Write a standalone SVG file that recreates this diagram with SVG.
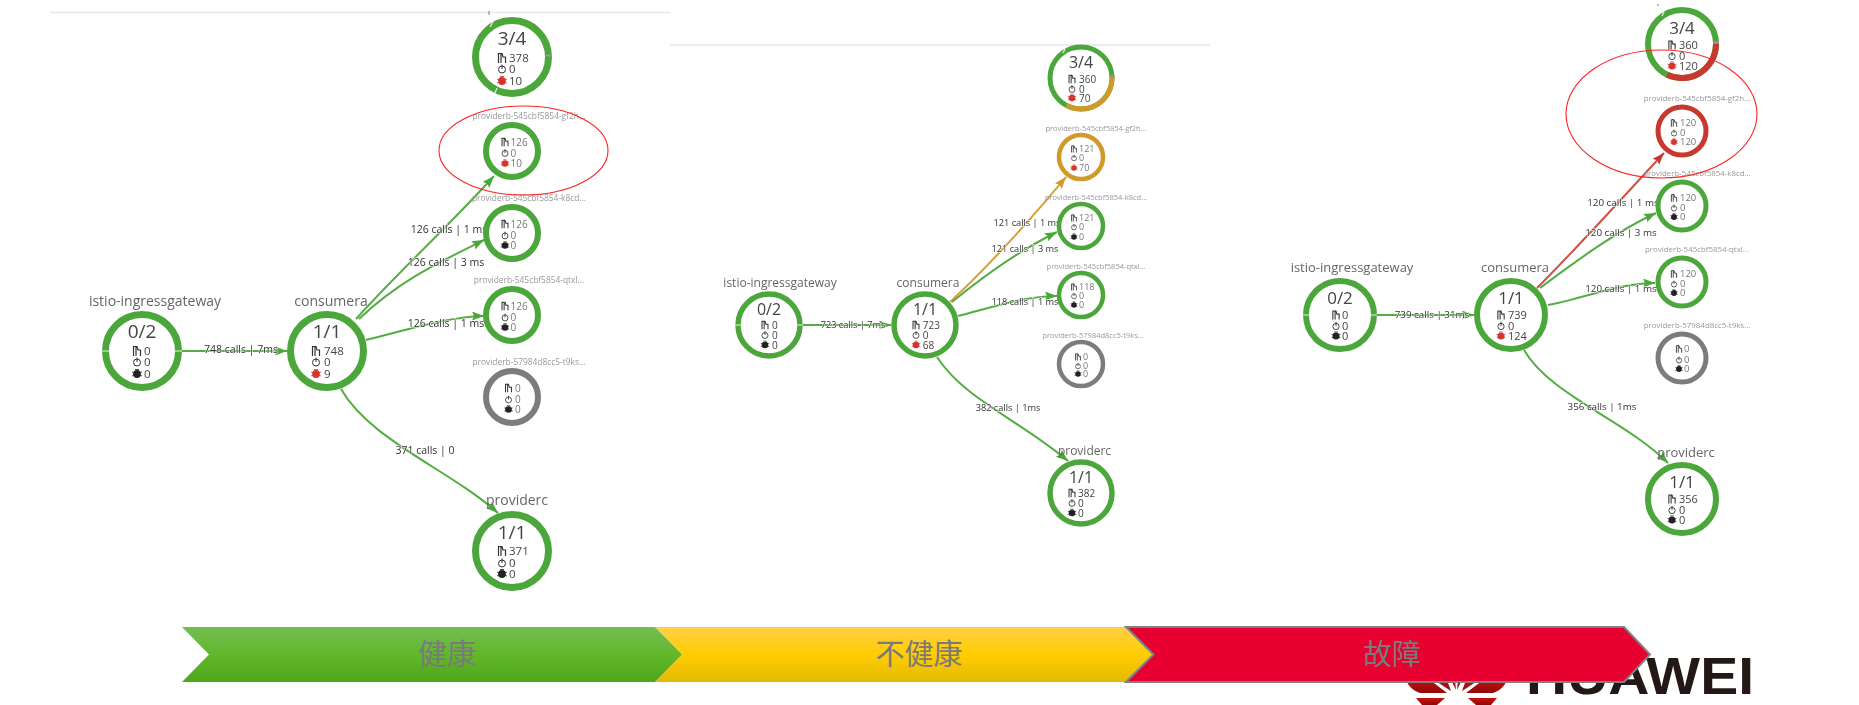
<svg xmlns="http://www.w3.org/2000/svg" width="1859" height="705" viewBox="0 0 1859 705">
<style>
text{font-family:"Open Sans","Noto Sans",sans-serif}
.ring{fill:#fff;stroke:#4ca63a}
.gy{stroke:#7b7b7b}.or{stroke:#cf9a2b}.rd{stroke:#c8392f}
.arc{fill:none;stroke-linecap:butt}
.tick{stroke:#9a9a9a;stroke-width:2}
.wt{stroke:#e4f0e0;stroke-width:1.2}
.ttl{fill:#444;text-anchor:middle}
.nm{fill:#666;text-anchor:middle}
.pod{fill:#999;text-anchor:middle}
.b1{fill:#444;font-size:11.5px}.b2{fill:#444;font-size:10px}.b3{fill:#444;font-size:11px}
.s1{fill:#777;font-size:10px}.s2{fill:#777;font-size:9px}.s3{fill:#777;font-size:9.5px}
.k{fill:#222;color:#222}.r{fill:#d5362f;color:#d5362f}
.e{fill:none;stroke:#55ac44;stroke-width:2}
.eo{stroke:#d6a035}.er{stroke:#cf4f46}
.lb{fill:#333;text-anchor:middle;paint-order:stroke;stroke:#fff;stroke-width:1.5px;stroke-opacity:.7}
.l1{font-size:10.5px}.l2{font-size:9.2px}.l3{font-size:9.8px}
.sep{stroke:#e8e8e8;stroke-width:1.5}
.mark{fill:none;stroke:#f22;stroke-width:1.1}
.bt{fill:#7a7a7a;font-size:29px;text-anchor:middle;font-family:"Noto Sans CJK SC",sans-serif}
</style>
<defs>
<filter id="soft" filterUnits="userSpaceOnUse" x="0" y="0" width="1859" height="705"><feGaussianBlur stdDeviation="0.5"/></filter>
<g id="rq"><path d="M-3.500,5V-4.500H0L1,-1H3.500V5M-1,5V-4.500" fill="none" stroke="#333" stroke-width="1.2"/></g>
<g id="ck"><circle r="3.500" cy="0.500" fill="none" stroke="#333" stroke-width="1"/><path d="M0,-4.500V0" stroke="#333" stroke-width="1"/></g>
<g id="bg"><circle r="3.900"/><path d="M-5,-2L5,2M-5,2L5,-2M-2,-4.500L2,-4.500" stroke="currentColor" stroke-width=".8"/></g>
<marker id="ag" markerUnits="userSpaceOnUse" markerWidth="13" markerHeight="10" refX="12" refY="4.500" orient="auto"><path d="M0,0L12,4.500L0,9L2,4.500Z" fill="#4ca63a"/></marker>
<marker id="ao" markerUnits="userSpaceOnUse" markerWidth="13" markerHeight="10" refX="12" refY="4.500" orient="auto"><path d="M0,0L12,4.500L0,9L2,4.500Z" fill="#cf9a2b"/></marker>
<marker id="ar" markerUnits="userSpaceOnUse" markerWidth="13" markerHeight="10" refX="12" refY="4.500" orient="auto"><path d="M0,0L12,4.500L0,9L2,4.500Z" fill="#c8392f"/></marker>
<linearGradient id="gg" x1="0" y1="0" x2="0" y2="1"><stop offset="0" stop-color="#74bd54"/><stop offset=".5" stop-color="#60b82a"/><stop offset="1" stop-color="#4fa61b"/></linearGradient>
<linearGradient id="gy" x1="0" y1="0" x2="0" y2="1"><stop offset="0" stop-color="#ffcf48"/><stop offset=".5" stop-color="#ffcd00"/><stop offset="1" stop-color="#e4b900"/></linearGradient>
<linearGradient id="gl" x1="0" y1="0" x2="0" y2="1"><stop offset="0" stop-color="#c8100c"/><stop offset="1" stop-color="#8c0a08"/></linearGradient>
</defs>

<g id="huawei-logo">
<g fill="url(#gl)">
<path d="M1406,680H1430L1447,693H1420Q1410,690 1406,680Z"/><path d="M1434,680H1447L1451,691Z"/><path d="M1451,680H1455L1456,690Z"/><path d="M1416,698H1445L1437,705H1422Z"/>
<path d="M1507,680H1483L1466,693H1493Q1503,690 1507,680Z"/><path d="M1479,680H1466L1462,691Z"/><path d="M1462,680H1458L1457,690Z"/><path d="M1497,698H1468L1476,705H1491Z"/>
</g>
<text x="1526" y="694" font-size="52" font-weight="700" fill="#231815" textLength="228" lengthAdjust="spacingAndGlyphs" style="font-family:'Liberation Sans',sans-serif">HUAWEI</text>
</g>

<g id="status-bars">
<path d="M655,627H1126L1153.500,654.500L1126,682H655L682,654.500Z" fill="url(#gy)"/>
<path d="M182,627H655L682,654.500L655,682H182L209,654.500Z" fill="url(#gg)"/>
<path d="M1126,627H1624L1650,654.500L1624,682H1126L1153.500,654.500Z" fill="#e80030" stroke="#808080" stroke-width="2"/>
<text class="bt" x="447" y="665">健康</text>
<text class="bt" x="919" y="665">不健康</text>
<text class="bt" x="1392" y="665">故障</text>
</g>

<g filter="url(#soft)">
<g id="separators">
<path class="sep" d="M50,12.500H671M670,45H1210"/>
<path d="M489,11V15M1658,4V6" stroke="#777" stroke-width="1"/>
</g>

<g id="connectors">
<path class="e" marker-end="url(#ag)" d="M182,351H287"/>
<path class="e" marker-end="url(#ag)" d="M356,319C400,270 450,225 494,176"/>
<path class="e" marker-end="url(#ag)" d="M359,319C400,280 440,262 484,240"/>
<path class="e" marker-end="url(#ag)" d="M366,340C400,332 450,316 484,316"/>
<path class="e" marker-end="url(#ag)" d="M341,389C370,440 450,470 498,513"/>
<text class="lb l1" x="241" y="353">748 calls | 7ms</text>
<text class="lb l1" x="449" y="233">126 calls | 1 ms</text>
<text class="lb l1" x="446" y="266">126 calls | 3 ms</text>
<text class="lb l1" x="446" y="327">126 calls | 1 ms</text>
<text class="lb l1" x="425" y="454">371 calls | 0</text>

<path class="e" marker-end="url(#ag)" d="M803,325H891"/>
<path class="e eo" marker-end="url(#ao)" d="M950,302C990,265 1030,220 1066,177"/>
<path class="e" marker-end="url(#ag)" d="M952,302C985,275 1020,250 1057,232"/>
<path class="e" marker-end="url(#ag)" d="M958,316C990,308 1025,296 1057,296"/>
<path class="e" marker-end="url(#ag)" d="M937,357C965,400 1020,420 1068,461"/>
<text class="lb l2" x="853" y="328">723 calls | 7ms</text>
<text class="lb l2" x="1027" y="226">121 calls | 1 ms</text>
<text class="lb l2" x="1025" y="252">121 calls | 3 ms</text>
<text class="lb l2" x="1025" y="305">118 calls | 1 ms</text>
<text class="lb l2" x="1008" y="411">382 calls | 1ms</text>

<path class="e" marker-end="url(#ag)" d="M1377,315H1474"/>
<path class="e er" marker-end="url(#ar)" d="M1537,288C1580,245 1625,195 1664,153"/>
<path class="e" marker-end="url(#ag)" d="M1540,288C1575,262 1615,232 1656,213"/>
<path class="e" marker-end="url(#ag)" d="M1548,305C1585,298 1620,283 1655,283"/>
<path class="e" marker-end="url(#ag)" d="M1524,350C1550,395 1625,420 1668,463"/>
<text class="lb l3" x="1432" y="318">739 calls | 31ms</text>
<text class="lb l3" x="1623" y="206">120 calls | 1 ms</text>
<text class="lb l3" x="1621" y="236">120 calls | 3 ms</text>
<text class="lb l3" x="1621" y="292">120 calls | 1 ms</text>
<text class="lb l3" x="1602" y="410">356 calls | 1ms</text>
</g>

<g id="p1-istio-ingressgateway" transform="translate(142,351)">
<text class="nm" x="13" y="-45" font-size="14">istio-ingressgateway</text>
<circle class="ring" r="36.500" stroke-width="7"/><path class="wt" d="M-40,0H-33M33,0H40"/>
<text class="ttl" y="-13" font-size="19">0/2</text>
<use href="#rq" transform="translate(-5,0)"/><text class="b1" x="2" y="4">0</text>
<use href="#ck" transform="translate(-5,11)"/><text class="b1" x="2" y="15">0</text>
<use href="#bg" class="k" transform="translate(-5,23)"/><text class="b1" x="2" y="27">0</text>
</g>
<g id="p1-consumera" transform="translate(327,351)">
<text class="nm" x="4" y="-45" font-size="14">consumera</text>
<circle class="ring" r="36.500" stroke-width="7"/>
<text class="ttl" y="-13" font-size="19">1/1</text>
<use href="#rq" transform="translate(-11,0)"/><text class="b1" x="-3" y="4">748</text>
<use href="#ck" transform="translate(-11,11)"/><text class="b1" x="-3" y="15">0</text>
<use href="#bg" class="r" transform="translate(-11,23)"/><text class="b1" x="-3" y="27">9</text>
</g>
<g id="p1-providerb" transform="translate(512,57)">
<circle class="ring" r="36.500" stroke-width="7"/><path class="tick" d="M34,-1.500H40"/><path class="wt" d="M-19,-35L-22,-30M-17,36L-15,31"/>
<text class="ttl" y="-12" font-size="19">3/4</text>
<use href="#rq" transform="translate(-10,1)"/><text class="b1" x="-3" y="5">378</text>
<use href="#ck" transform="translate(-10,12)"/><text class="b1" x="-3" y="16">0</text>
<use href="#bg" class="r" transform="translate(-10,24)"/><text class="b1" x="-3" y="28">10</text>
</g>
<g id="p1-pod-gf2h" transform="translate(512,151)">
<text class="pod" x="17" y="-32" font-size="8.400">providerb-545cbf5854-gf2h...</text>
<circle class="ring" r="26" stroke-width="6"/>
<use href="#rq" transform="translate(-7,-9) scale(.85)"/><text class="s1" x="-1.500" y="-5.500">126</text>
<use href="#ck" transform="translate(-7,2) scale(.85)"/><text class="s1" x="-1.500" y="6">0</text>
<use href="#bg" class="r" transform="translate(-7,12.500) scale(.85)"/><text class="s1" x="-1.500" y="16">10</text>
</g>
<g id="p1-pod-k8cd" transform="translate(512,233)">
<text class="pod" x="17" y="-32" font-size="8.400">providerb-545cbf5854-k8cd...</text>
<circle class="ring" r="26" stroke-width="6"/>
<use href="#rq" transform="translate(-7,-9) scale(.85)"/><text class="s1" x="-1.500" y="-5.500">126</text>
<use href="#ck" transform="translate(-7,2.500) scale(.85)"/><text class="s1" x="-1.500" y="6">0</text>
<use href="#bg" class="k" transform="translate(-7,12.500) scale(.85)"/><text class="s1" x="-1.500" y="16">0</text>
</g>
<g id="p1-pod-qtxl" transform="translate(512,315)">
<text class="pod" x="17" y="-32" font-size="8.400">providerb-545cbf5854-qtxl...</text>
<circle class="ring" r="26" stroke-width="6"/>
<use href="#rq" transform="translate(-7,-9) scale(.85)"/><text class="s1" x="-1.500" y="-5.500">126</text>
<use href="#ck" transform="translate(-7,2.500) scale(.85)"/><text class="s1" x="-1.500" y="6">0</text>
<use href="#bg" class="k" transform="translate(-7,12.500) scale(.85)"/><text class="s1" x="-1.500" y="16">0</text>
</g>
<g id="p1-pod-t9ks" transform="translate(512,397)">
<text class="pod" x="17" y="-32" font-size="8.400">providerb-57984d8cc5-t9ks...</text>
<circle class="ring gy" r="26" stroke-width="6"/>
<use href="#rq" transform="translate(-3.500,-9) scale(.85)"/><text class="s1" x="3" y="-5.500">0</text>
<use href="#ck" transform="translate(-3.500,2.500) scale(.85)"/><text class="s1" x="3" y="6">0</text>
<use href="#bg" class="k" transform="translate(-3.500,12.500) scale(.85)"/><text class="s1" x="3" y="16">0</text>
</g>
<g id="p1-providerc" transform="translate(512,551)">
<text class="nm" x="5" y="-46" font-size="14">providerc</text>
<circle class="ring" r="36.500" stroke-width="7"/>
<text class="ttl" y="-12" font-size="19">1/1</text>
<use href="#rq" transform="translate(-10,0)"/><text class="b1" x="-3" y="4">371</text>
<use href="#ck" transform="translate(-10,12)"/><text class="b1" x="-3" y="16">0</text>
<use href="#bg" class="k" transform="translate(-10,23)"/><text class="b1" x="-3" y="27">0</text>
</g>

<g id="p2-istio-ingressgateway" transform="translate(769,325)">
<text class="nm" x="11" y="-38" font-size="12">istio-ingressgateway</text>
<circle class="ring" r="31" stroke-width="5.500"/><path class="wt" d="M-34,0H-28M28,0H34"/>
<text class="ttl" y="-10" font-size="16">0/2</text>
<use href="#rq" transform="translate(-4,0) scale(.85)"/><text class="b2" x="3" y="3.500">0</text>
<use href="#ck" transform="translate(-4,10) scale(.85)"/><text class="b2" x="3" y="13.500">0</text>
<use href="#bg" class="k" transform="translate(-4,20) scale(.85)"/><text class="b2" x="3" y="23.500">0</text>
</g>
<g id="p2-consumera" transform="translate(925,325)">
<text class="nm" x="3" y="-38" font-size="12">consumera</text>
<circle class="ring" r="31" stroke-width="5.500"/>
<text class="ttl" y="-10" font-size="16">1/1</text>
<use href="#rq" transform="translate(-9,0) scale(.85)"/><text class="b2" x="-2.300" y="3.500">723</text>
<use href="#ck" transform="translate(-9,10) scale(.85)"/><text class="b2" x="-2.300" y="13.500">0</text>
<use href="#bg" class="r" transform="translate(-9,20) scale(.85)"/><text class="b2" x="-2.300" y="23.500">68</text>
</g>
<g id="p2-providerb" transform="translate(1081,78)">
<circle class="ring" r="31" stroke-width="5"/><path class="arc or" stroke-width="5" d="M31,0A31,31 0 0 1 -14.600,27.400"/><path class="tick" d="M28,-1.500H34"/><path class="wt" d="M-16,-29L-18,-25"/>
<text class="ttl" y="-10" font-size="16">3/4</text>
<use href="#rq" transform="translate(-9,1) scale(.85)"/><text class="b2" x="-2" y="4.500">360</text>
<use href="#ck" transform="translate(-9,11) scale(.85)"/><text class="b2" x="-2" y="14.500">0</text>
<use href="#bg" class="r" transform="translate(-9,20) scale(.85)"/><text class="b2" x="-2" y="23.500">70</text>
</g>
<g id="p2-pod-gf2h" transform="translate(1081,157)">
<text class="pod" x="15" y="-26" font-size="7.500">providerb-545cbf5854-gf2h...</text>
<circle class="ring or" r="22" stroke-width="4.500"/>
<use href="#rq" transform="translate(-7,-8) scale(.7)"/><text class="s2" x="-2" y="-5">121</text>
<use href="#ck" transform="translate(-7,1) scale(.7)"/><text class="s2" x="-2" y="4">0</text>
<use href="#bg" class="r" transform="translate(-7,11) scale(.7)"/><text class="s2" x="-2" y="14">70</text>
</g>
<g id="p2-pod-k8cd" transform="translate(1081,226)">
<text class="pod" x="15" y="-26" font-size="7.500">providerb-545cbf5854-k8cd...</text>
<circle class="ring" r="22" stroke-width="4.500"/>
<use href="#rq" transform="translate(-7,-8) scale(.7)"/><text class="s2" x="-2" y="-5">121</text>
<use href="#ck" transform="translate(-7,1) scale(.7)"/><text class="s2" x="-2" y="4">0</text>
<use href="#bg" class="k" transform="translate(-7,11) scale(.7)"/><text class="s2" x="-2" y="14">0</text>
</g>
<g id="p2-pod-qtxl" transform="translate(1081,295)">
<text class="pod" x="15" y="-26" font-size="7.500">providerb-545cbf5854-qtxl...</text>
<circle class="ring" r="22" stroke-width="4.500"/>
<use href="#rq" transform="translate(-7,-8) scale(.7)"/><text class="s2" x="-2" y="-5">118</text>
<use href="#ck" transform="translate(-7,1) scale(.7)"/><text class="s2" x="-2" y="4">0</text>
<use href="#bg" class="k" transform="translate(-7,10) scale(.7)"/><text class="s2" x="-2" y="13">0</text>
</g>
<g id="p2-pod-t9ks" transform="translate(1081,364)">
<text class="pod" x="12" y="-26" font-size="7.500">providerb-57984d8cc5-t9ks...</text>
<circle class="ring gy" r="22" stroke-width="4.500"/>
<use href="#rq" transform="translate(-3,-7) scale(.7)"/><text class="s2" x="2" y="-4">0</text>
<use href="#ck" transform="translate(-3,2) scale(.7)"/><text class="s2" x="2" y="5">0</text>
<use href="#bg" class="k" transform="translate(-3,10) scale(.7)"/><text class="s2" x="2" y="13">0</text>
</g>
<g id="p2-providerc" transform="translate(1081,493)">
<text class="nm" x="3.500" y="-38" font-size="12">providerc</text>
<circle class="ring" r="31" stroke-width="5.500"/>
<text class="ttl" y="-10" font-size="16">1/1</text>
<use href="#rq" transform="translate(-9,0) scale(.85)"/><text class="b2" x="-3" y="3.500">382</text>
<use href="#ck" transform="translate(-9,10) scale(.85)"/><text class="b2" x="-3" y="13.500">0</text>
<use href="#bg" class="k" transform="translate(-9,20) scale(.85)"/><text class="b2" x="-3" y="23.500">0</text>
</g>

<g id="p3-istio-ingressgateway" transform="translate(1340,315)">
<text class="nm" x="12" y="-43" font-size="13">istio-ingressgateway</text>
<circle class="ring" r="34" stroke-width="6"/><path class="wt" d="M-37,0H-31M31,0H37"/>
<text class="ttl" y="-11" font-size="17">0/2</text>
<use href="#rq" transform="translate(-4,0) scale(.9)"/><text class="b3" x="2" y="3.500">0</text>
<use href="#ck" transform="translate(-4,11) scale(.9)"/><text class="b3" x="2" y="14.500">0</text>
<use href="#bg" class="k" transform="translate(-4,21) scale(.9)"/><text class="b3" x="2" y="24.500">0</text>
</g>
<g id="p3-consumera" transform="translate(1511,315)">
<text class="nm" x="4" y="-43" font-size="13">consumera</text>
<circle class="ring" r="34" stroke-width="6"/>
<text class="ttl" y="-11" font-size="17">1/1</text>
<use href="#rq" transform="translate(-10,0) scale(.9)"/><text class="b3" x="-3" y="3.500">739</text>
<use href="#ck" transform="translate(-10,11) scale(.9)"/><text class="b3" x="-3" y="14.500">0</text>
<use href="#bg" class="r" transform="translate(-10,21) scale(.9)"/><text class="b3" x="-3" y="24.500">124</text>
</g>
<g id="p3-providerb" transform="translate(1682,44)">
<circle class="ring" r="34" stroke-width="6"/><path class="arc rd" stroke-width="6" d="M34,0A34,34 0 0 1 -14.900,30.600"/><path class="tick" d="M31,-1.500H37"/><path class="wt" d="M-18,-32L-20,-28"/>
<text class="ttl" y="-10" font-size="17">3/4</text>
<use href="#rq" transform="translate(-10,1) scale(.9)"/><text class="b3" x="-3" y="4.500">360</text>
<use href="#ck" transform="translate(-10,12) scale(.9)"/><text class="b3" x="-3" y="15.500">0</text>
<use href="#bg" class="r" transform="translate(-10,22) scale(.9)"/><text class="b3" x="-3" y="25.500">120</text>
</g>
<g id="p3-pod-gf2h" transform="translate(1682,131)">
<text class="pod" x="15" y="-30" font-size="7.900">providerb-545cbf5854-gf2h...</text>
<circle class="ring rd" r="24" stroke-width="5"/>
<use href="#rq" transform="translate(-8,-8) scale(.75)"/><text class="s3" x="-2" y="-5">120</text>
<use href="#ck" transform="translate(-8,2) scale(.75)"/><text class="s3" x="-2" y="5">0</text>
<use href="#bg" class="r" transform="translate(-8,11) scale(.75)"/><text class="s3" x="-2" y="14">120</text>
</g>
<g id="p3-pod-k8cd" transform="translate(1682,206)">
<text class="pod" x="15" y="-30" font-size="7.900">providerb-545cbf5854-k8cd...</text>
<circle class="ring" r="24" stroke-width="5"/>
<use href="#rq" transform="translate(-8,-8) scale(.75)"/><text class="s3" x="-2" y="-5">120</text>
<use href="#ck" transform="translate(-8,2) scale(.75)"/><text class="s3" x="-2" y="5">0</text>
<use href="#bg" class="k" transform="translate(-8,11) scale(.75)"/><text class="s3" x="-2" y="14">0</text>
</g>
<g id="p3-pod-qtxl" transform="translate(1682,282)">
<text class="pod" x="15" y="-30" font-size="7.900">providerb-545cbf5854-qtxl...</text>
<circle class="ring" r="24" stroke-width="5"/>
<use href="#rq" transform="translate(-8,-8) scale(.75)"/><text class="s3" x="-2" y="-5">120</text>
<use href="#ck" transform="translate(-8,2) scale(.75)"/><text class="s3" x="-2" y="5">0</text>
<use href="#bg" class="k" transform="translate(-8,11) scale(.75)"/><text class="s3" x="-2" y="14">0</text>
</g>
<g id="p3-pod-t9ks" transform="translate(1682,358)">
<text class="pod" x="15" y="-30" font-size="7.900">providerb-57984d8cc5-t9ks...</text>
<circle class="ring gy" r="24" stroke-width="5"/>
<use href="#rq" transform="translate(-3,-9) scale(.75)"/><text class="s3" x="2" y="-6">0</text>
<use href="#ck" transform="translate(-3,2) scale(.75)"/><text class="s3" x="2" y="5">0</text>
<use href="#bg" class="k" transform="translate(-3,11) scale(.75)"/><text class="s3" x="2" y="14">0</text>
</g>
<g id="p3-providerc" transform="translate(1682,499)">
<text class="nm" x="4" y="-42" font-size="13">providerc</text>
<circle class="ring" r="34" stroke-width="6"/>
<text class="ttl" y="-11" font-size="17">1/1</text>
<use href="#rq" transform="translate(-10,0) scale(.9)"/><text class="b3" x="-3" y="3.500">356</text>
<use href="#ck" transform="translate(-10,11) scale(.9)"/><text class="b3" x="-3" y="14.500">0</text>
<use href="#bg" class="k" transform="translate(-10,21) scale(.9)"/><text class="b3" x="-3" y="24.500">0</text>
</g>
</g>

<g id="highlights">
<ellipse class="mark" cx="523.500" cy="150.500" rx="84.500" ry="44.500"/>
<ellipse class="mark" cx="1661.500" cy="114" rx="95.500" ry="64"/>
</g>
</svg>
